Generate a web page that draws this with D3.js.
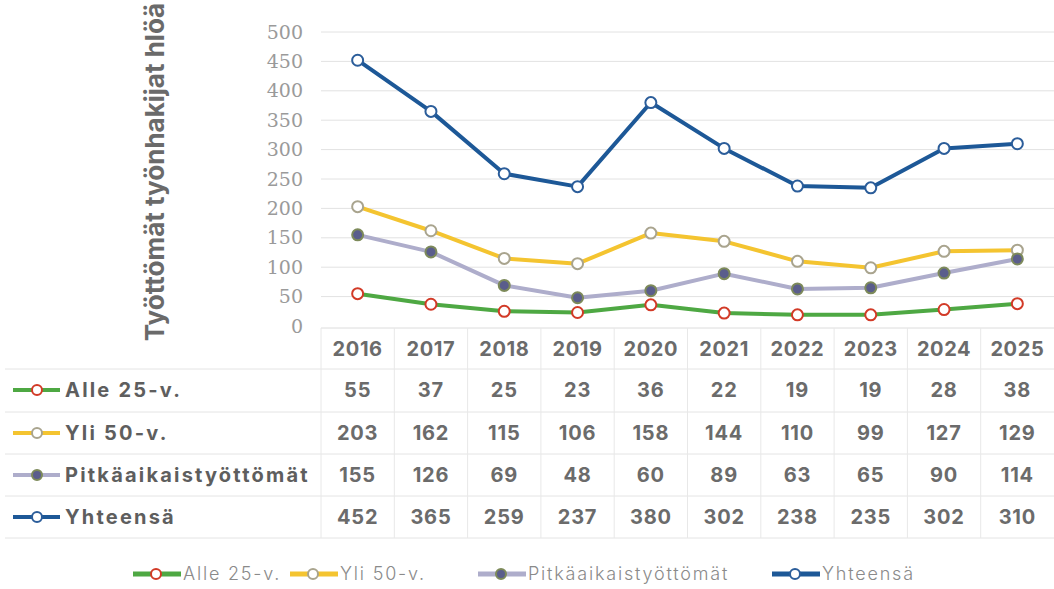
<!DOCTYPE html>
<html>
<head>
<meta charset="utf-8">
<script src="https://cdn.jsdelivr.net/npm/d3@7"></script>
<style>
  body { margin: 0; background: #fff; }
  svg { display: block; }
  .ytick text { font-family: "DejaVu Serif", "Times New Roman", "Liberation Serif", serif; }
</style>
</head>
<body>
<svg id="chart"></svg>
<script>
// data
var years = ["2016", "2017", "2018", "2019", "2020", "2021", "2022", "2023", "2024", "2025"];
var seriesNames = ["Alle 25-v.", "Yli 50-v.", "Pitkäaikaistyöttömät", "Yhteensä"];
var alle25 = [55, 37, 25, 23, 36, 22, 19, 19, 28, 38];
var yli50 = [203, 162, 115, 106, 158, 144, 110, 99, 127, 129];
var pitka = [155, 126, 69, 48, 60, 89, 63, 65, 90, 114];
var yhteensa = [452, 365, 259, 237, 380, 302, 238, 235, 302, 310];
var yTicks = [0, 50, 100, 150, 200, 250, 300, 350, 400, 450, 500];
var yTitle = "Työttömät työnhakijat hlöä";

function drawChart() {
    var width = 1054, height = 589;
    var svg = d3.select("#chart").attr("width", width).attr("height", height);
    var sans = "Inter, 'Noto Sans', sans-serif";

    var styles = [
        {line: "#4ea843", stroke: "#d23a27", fill: "#fff"},
        {line: "#f4c430", stroke: "#a9a48e", fill: "#fff"},
        {line: "#aeadcb", stroke: "#7d8a5a", fill: "#5a5d8c"},
        {line: "#1d5897", stroke: "#2b5d9a", fill: "#fff"}
    ];
    var allSeries = [alle25, yli50, pitka, yhteensa];

    var x = d3.scaleBand().domain(years).range([321, 1054]);
    var y = d3.scaleLinear().domain([0, 500]).range([326, 32]);

    // gridlines
    svg.append("g").selectAll("line").data(yTicks.slice(1)).join("line")
        .attr("x1", 321).attr("x2", 1054)
        .attr("y1", function(d) { return y(d); }).attr("y2", function(d) { return y(d); })
        .attr("stroke", "#e2e2e2").attr("stroke-width", 1);

    // y axis labels
    var yAxis = d3.axisLeft(y).tickValues(yTicks).tickSize(0).tickPadding(0);
    var ya = svg.append("g").attr("class", "ytick").attr("transform", "translate(303,0)").call(yAxis);
    ya.attr("font-family", null).attr("font-size", 19);
    ya.select(".domain").remove();
    ya.selectAll("text").attr("fill", "#9a9a9a");

    svg.append("text")
        .attr("transform", "translate(164,172) rotate(-90)")
        .attr("text-anchor", "middle")
        .attr("font-family", sans)
        .attr("font-weight", 700).attr("font-size", 26)
        .attr("fill", "#6a6a6a")
        .text(yTitle);

    // table grid
    var rowLines = [328, 369, 412, 454, 496, 538];
    svg.append("g").selectAll("line").data(rowLines.slice(1)).join("line")
        .attr("x1", 5).attr("x2", 1054)
        .attr("y1", function(d) { return d; }).attr("y2", function(d) { return d; })
        .attr("stroke", "#e4e4e4");
    svg.append("line").attr("x1", 321).attr("x2", 1054).attr("y1", 328).attr("y2", 328)
        .attr("stroke", "#dcdcdc");
    svg.append("g").selectAll("line").data(years).join("line")
        .attr("x1", function(d) { return x(d); }).attr("x2", function(d) { return x(d); })
        .attr("y1", 328).attr("y2", 538)
        .attr("stroke", "#e8e8e8");

    // years header
    svg.append("g").selectAll("text").data(years).join("text")
        .attr("x", function(d) { return x(d) + x.bandwidth() / 2; })
        .attr("y", 356)
        .attr("text-anchor", "middle")
        .attr("font-family", sans)
        .attr("font-weight", 700).attr("font-size", 20).attr("letter-spacing", 0.6)
        .attr("fill", "#6b6b6b")
        .text(function(d) { return d; });

    // lines
    var line = d3.line()
        .x(function(d, i) { return x(years[i]) + x.bandwidth() / 2; })
        .y(function(d) { return y(d); });

    allSeries.forEach(function(vals, k) {
        svg.append("path")
            .attr("d", line(vals))
            .attr("fill", "none")
            .attr("stroke", styles[k].line)
            .attr("stroke-width", 4)
            .attr("stroke-linejoin", "round");
        svg.append("g").selectAll("circle").data(vals).join("circle")
            .attr("cx", function(d, i) { return x(years[i]) + x.bandwidth() / 2; })
            .attr("cy", function(d) { return y(d); })
            .attr("r", 5.5)
            .attr("fill", styles[k].fill)
            .attr("stroke", styles[k].stroke)
            .attr("stroke-width", 2);
    });

    // table rows
    var rowCenters = [390, 433, 475, 517];
    allSeries.forEach(function(vals, k) {
        var cy = rowCenters[k];
        svg.append("line").attr("x1", 13).attr("x2", 60).attr("y1", cy).attr("y2", cy)
            .attr("stroke", styles[k].line).attr("stroke-width", 4);
        svg.append("circle").attr("cx", 37).attr("cy", cy).attr("r", 5)
            .attr("fill", styles[k].fill).attr("stroke", styles[k].stroke).attr("stroke-width", 2);
        svg.append("text").attr("x", 65).attr("y", cy + 7)
            .attr("font-family", sans)
            .attr("font-weight", 700).attr("font-size", 20).attr("letter-spacing", 2.2)
            .attr("fill", "#5e5e5e")
            .text(seriesNames[k]);
        svg.append("g").selectAll("text").data(vals).join("text")
            .attr("x", function(d, i) { return x(years[i]) + x.bandwidth() / 2; })
            .attr("y", cy + 7)
            .attr("text-anchor", "middle")
            .attr("font-family", sans)
            .attr("font-weight", 700).attr("font-size", 20).attr("letter-spacing", 0.8)
            .attr("fill", "#6b6b6b")
            .text(function(d) { return d; });
    });

    // legend
    var legendX = [133, 290, 478, 772];
    seriesNames.forEach(function(name, k) {
        var lx = legendX[k], ly = 574;
        svg.append("line").attr("x1", lx).attr("x2", lx + 48).attr("y1", ly).attr("y2", ly)
            .attr("stroke", styles[k].line).attr("stroke-width", 5);
        svg.append("circle").attr("cx", lx + 23).attr("cy", ly).attr("r", 5)
            .attr("fill", styles[k].fill).attr("stroke", styles[k].stroke).attr("stroke-width", 2);
        svg.append("text").attr("x", lx + 50).attr("y", ly + 6)
            .attr("font-family", sans)
            .attr("font-weight", 300).attr("font-size", 18).attr("letter-spacing", 1.8)
            .attr("fill", "#8a8a8a")
            .text(name);
    });
}

drawChart();
</script>
</body>
</html>
